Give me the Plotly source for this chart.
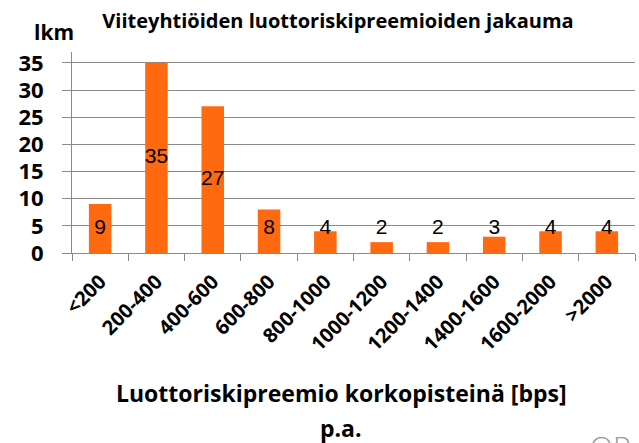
import plotly.graph_objects as go

categories = ["<200", "200-400", "400-600", "600-800", "800-1000", "1000-1200",
              "1200-1400", "1400-1600", "1600-2000", ">2000"]
counts = [9, 35, 27, 8, 4, 2, 2, 3, 4, 4]

title_text = "Viiteyhtiöiden luottoriskipreemioiden jakauma"
y_title = "lkm"
x_title_1 = "Luottoriskipreemio korkopisteinä [bps]"
x_title_2 = "p.a."

W, H = 639, 443
L, R, T, B = 72, 4, 52, 190
plot_w = W - L - R
plot_h = H - T - B

def px_x(px):
    return (px - L) / plot_w

def px_y(py):
    return (H - B - py) / plot_h

BAR = "#FF6A10"
GRID = "#8a8a8a"
BOLD = "Open Sans"

fig = go.Figure()
fig.add_trace(go.Bar(x=categories, y=counts, marker=dict(color=BAR, line=dict(width=0)),
                     hoverinfo="skip"))
label_y = [max(v / 2, 4.4) for v in counts]
fig.add_trace(go.Scatter(x=categories, y=label_y, mode="text", text=[str(v) for v in counts],
                         textposition="middle center",
                         textfont=dict(family="Liberation Sans, Arial", size=21, color="black"),
                         cliponaxis=False, hoverinfo="skip"))

fig.update_layout(
    width=W, height=H,
    margin=dict(l=L, r=R, t=T, b=B, pad=0, autoexpand=False),
    paper_bgcolor="white", plot_bgcolor="white",
    showlegend=False, bargap=0.6,
    title=dict(text=title_text, x=338 / W, y=1 - 21 / H,
               xanchor="center", yanchor="middle", xref="container", yref="container",
               font=dict(family=BOLD, size=20, color="black", weight="bold")),
    xaxis=dict(type="category", showgrid=False, showline=True, linecolor=GRID, linewidth=1,
               ticks="outside", ticklen=7, tickcolor=GRID, tickson="boundaries",
               tickangle=-45, ticklabelstandoff=8, automargin=False,
               tickfont=dict(family=BOLD, size=20, color="black", weight="bold")),
    yaxis=dict(range=[0, 37], tick0=0, dtick=5, showgrid=True, gridcolor=GRID, gridwidth=1,
               showline=True, linecolor=GRID, linewidth=1, zeroline=False, automargin=False,
               ticks="outside", ticklen=9, tickcolor=GRID, ticklabelstandoff=14,
               tickfont=dict(family=BOLD, size=22, color="black", weight="bold")),
    annotations=[
        dict(text=y_title, xref="paper", yref="paper", x=px_x(54), y=px_y(32),
             xanchor="center", yanchor="middle", showarrow=False,
             font=dict(family=BOLD, size=21, color="black", weight="bold")),
        dict(text=x_title_1, xref="paper", yref="paper", x=px_x(341), y=px_y(393),
             xanchor="center", yanchor="middle", showarrow=False,
             font=dict(family=BOLD, size=23, color="black", weight="bold")),
        dict(text=x_title_2, xref="paper", yref="paper", x=px_x(341), y=px_y(428),
             xanchor="center", yanchor="middle", showarrow=False,
             font=dict(family=BOLD, size=23, color="black", weight="bold")),
        dict(text="OP", xref="paper", yref="paper", x=px_x(610), y=px_y(446),
             xanchor="center", yanchor="middle", showarrow=False,
             font=dict(family="Open Sans", size=30, color="#9a9a9a", weight=300)),
    ],
)

fig.write_html("out.html", config={"displayModeBar": False},
               post_script="document.body.style.margin='0';document.body.style.overflow='hidden';")
